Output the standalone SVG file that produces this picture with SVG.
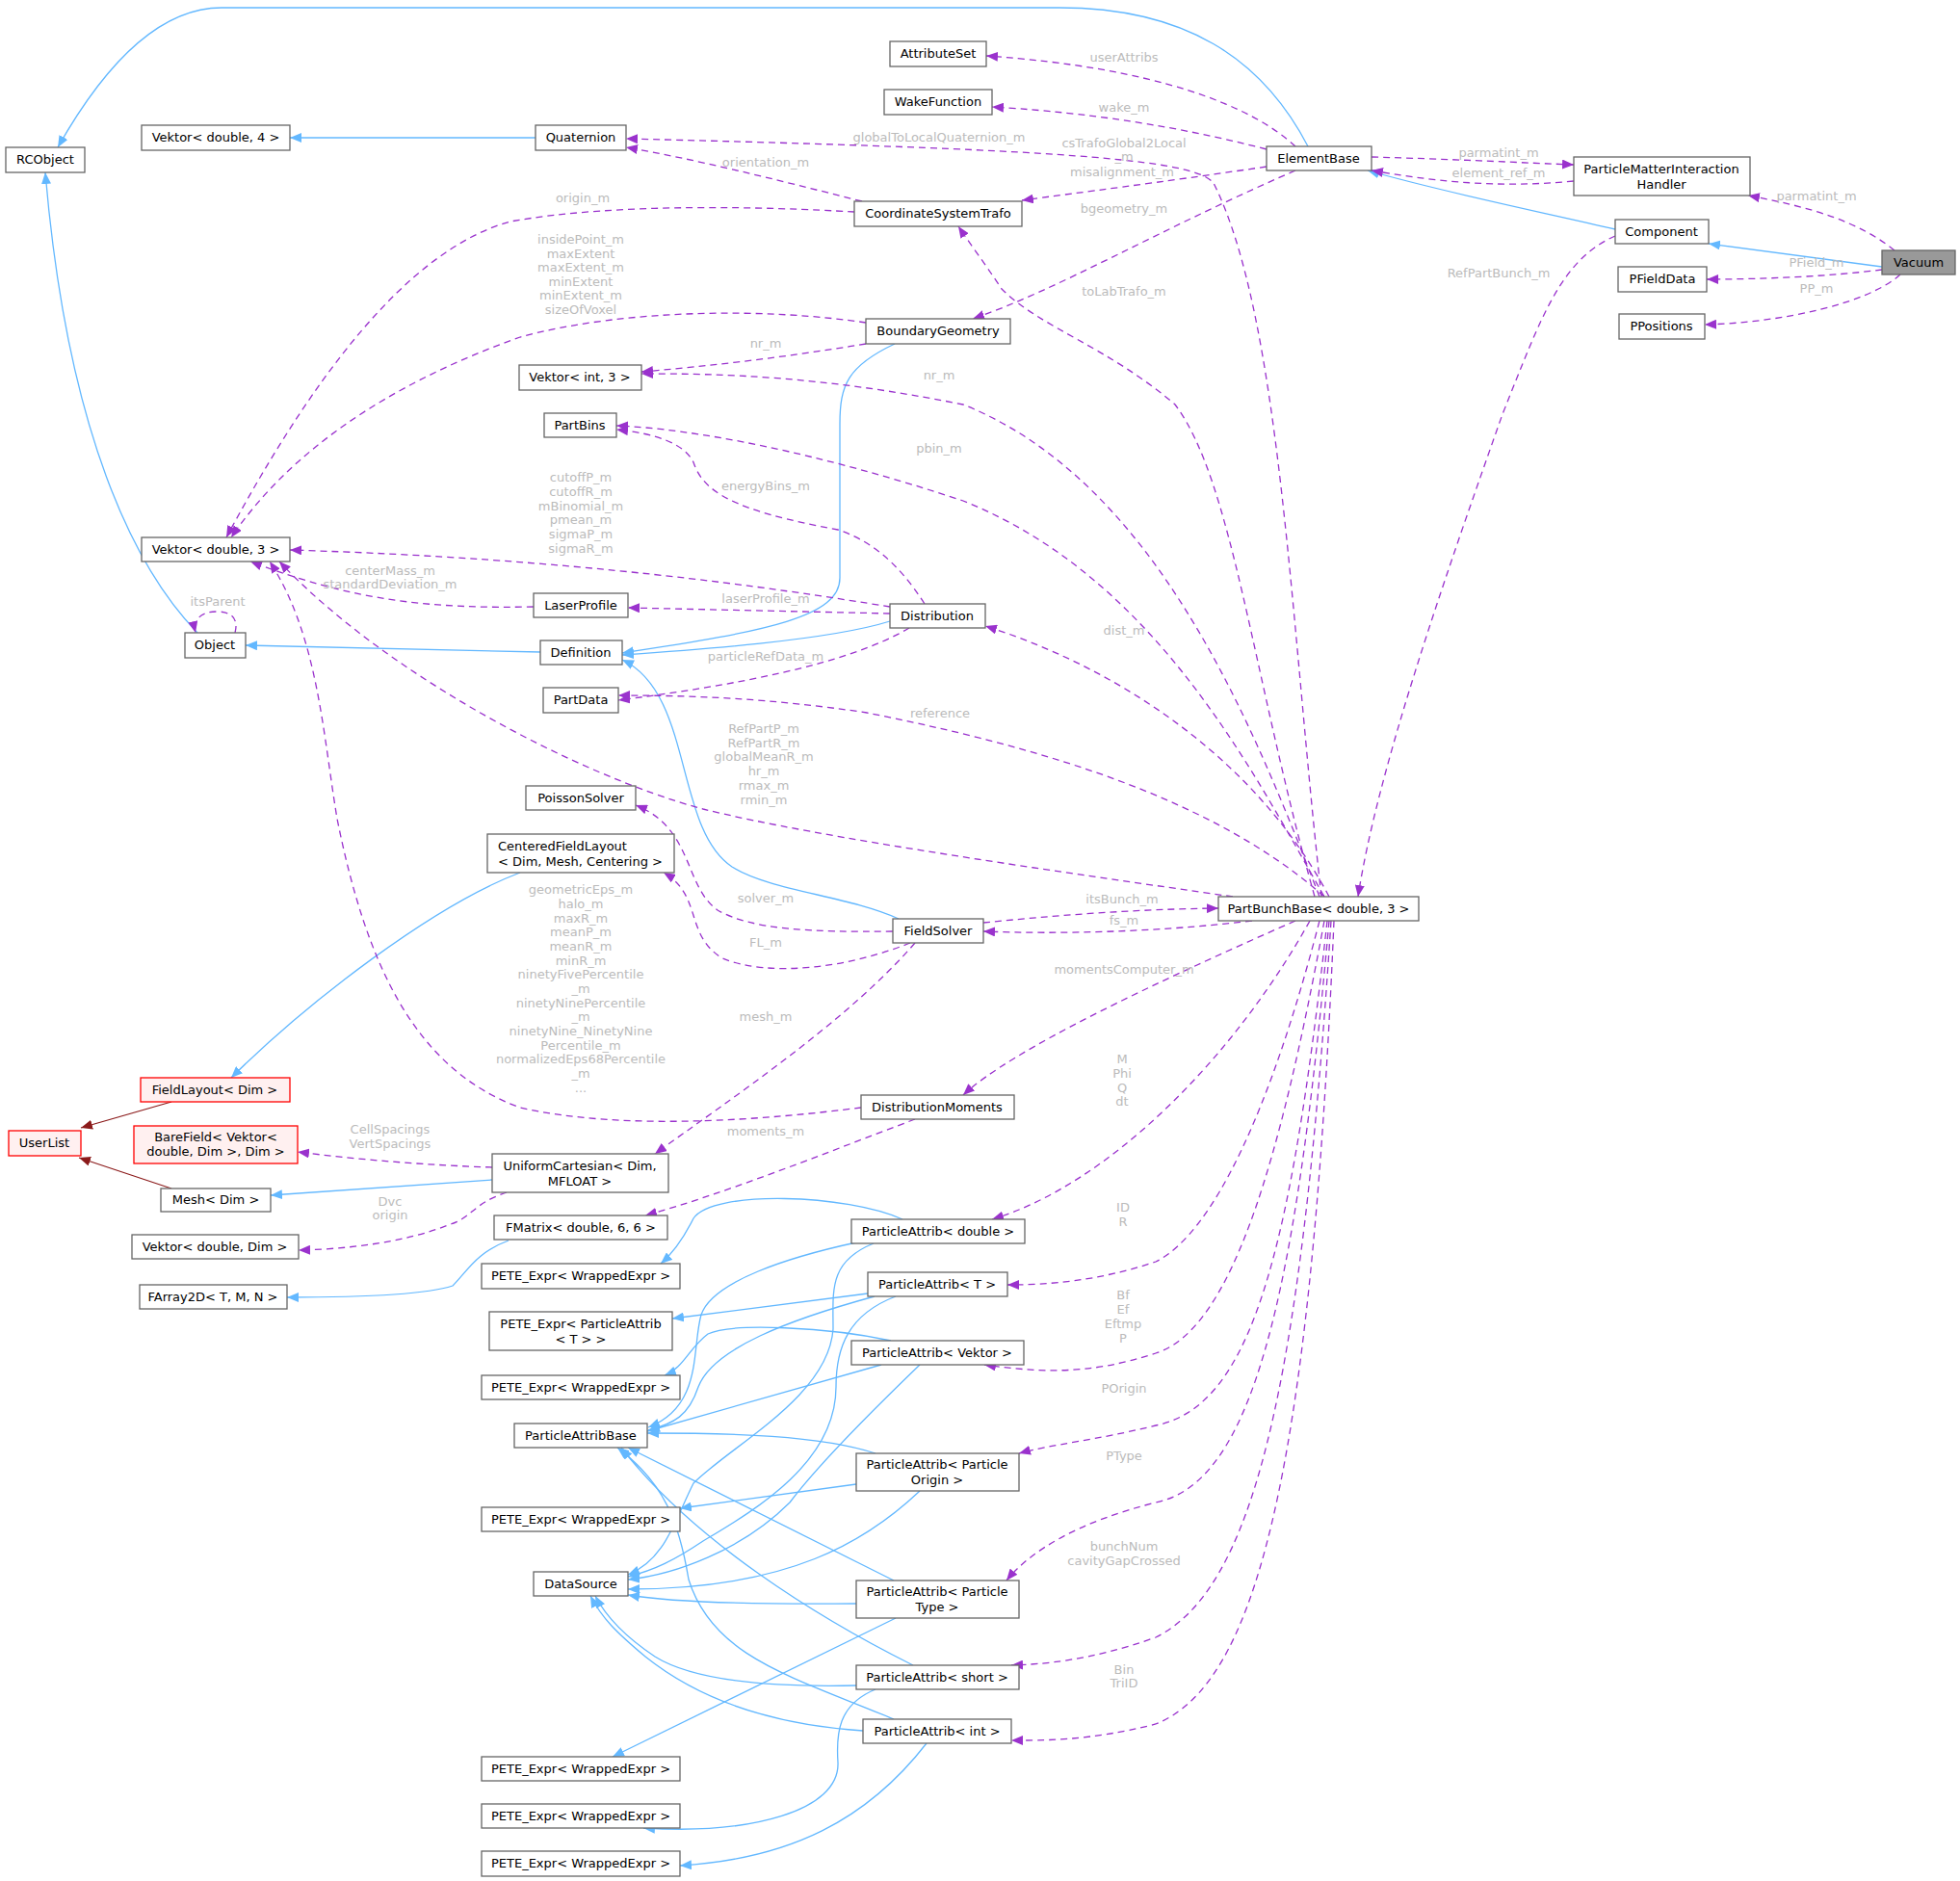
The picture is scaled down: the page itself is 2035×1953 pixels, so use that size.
<svg xmlns="http://www.w3.org/2000/svg" width="2035" height="1953" viewBox="0 0 2035 1953">
<style>
.n rect{fill:#fff;stroke:#666;stroke-width:1.3}
.r rect{fill:#fff0f0;stroke:#f00;stroke-width:1.3}
.g rect{fill:#999;stroke:#666;stroke-width:1.3}
text{font-family:"DejaVu Sans","Liberation Sans",sans-serif;font-size:13px;fill:#000}
.c{text-anchor:middle}
.l{text-anchor:middle;fill:#bbb;font-size:13px}
.b{fill:none;stroke:#63b8ff;stroke-width:1.3;marker-end:url(#mb)}
.k{fill:none;stroke:#8b1a1a;stroke-width:1.3;marker-end:url(#mr)}
.d{fill:none;stroke:#9a32cd;stroke-width:1.3;stroke-dasharray:7,5;marker-end:url(#mp)}
</style>
<defs>
<marker id="mb" markerUnits="userSpaceOnUse" markerWidth="13" markerHeight="10" refX="12" refY="5" orient="auto"><path d="M0,0 L12,5 L0,10z" fill="#63b8ff"/></marker>
<marker id="mp" markerUnits="userSpaceOnUse" markerWidth="13" markerHeight="10" refX="12" refY="5" orient="auto"><path d="M0,0 L12,5 L0,10z" fill="#9a32cd"/></marker>
<marker id="mr" markerUnits="userSpaceOnUse" markerWidth="13" markerHeight="10" refX="12" refY="5" orient="auto"><path d="M0,0 L12,5 L0,10z" fill="#8b1a1a"/></marker>
</defs>
<rect width="2035" height="1953" fill="#fff"/>
<g id="edges">
<path class="b" d="M1358,152 C1310,60 1230,8 1100,8 L230,8 C150,8 90,100 60,153"/>
<path class="b" d="M556,143 L301,143"/>
<path class="b" d="M205,657 C140,590 70,450 47,179"/>
<path class="b" d="M561,677 L255,670"/>
<path class="b" d="M929,357 C880,380 872,400 872,440 L872,600 C872,640 800,655 646,678"/>
<path class="b" d="M924,645 C860,665 720,675 646,680"/>
<path class="b" d="M933,954 C880,930 800,925 760,900 C700,860 720,720 646,685"/>
<path class="b" d="M540,906 C450,940 320,1040 240,1119"/>
<path class="b" d="M511,1225 L281,1241"/>
<path class="b" d="M528,1288 C495,1300 485,1320 470,1335 C440,1345 360,1347 298,1347"/>
<path class="b" d="M1677,238 C1600,220 1500,200 1420,177"/>
<path class="b" d="M1954,277 L1774,253"/>
<path class="k" d="M178,1144 L84,1171"/>
<path class="k" d="M178,1234 L82,1202"/>
<path class="b" d="M937,1266 C880,1240 740,1235 720,1265 C710,1285 700,1300 686,1312"/>
<path class="b" d="M889,1290 C820,1305 740,1330 728,1365 C718,1400 730,1460 673,1482"/>
<path class="b" d="M907,1291 C860,1310 865,1340 865,1380 C860,1450 760,1500 720,1540 C700,1580 690,1620 652,1635"/>
<path class="b" d="M901,1343 L698,1369"/>
<path class="b" d="M908,1346 C820,1370 740,1400 725,1440 C715,1470 700,1478 673,1485"/>
<path class="b" d="M930,1346 C880,1365 868,1400 868,1440 C868,1520 780,1570 730,1600 C700,1620 680,1630 652,1637"/>
<path class="b" d="M925,1392 C860,1378 760,1373 735,1385 C715,1400 710,1420 690,1428"/>
<path class="b" d="M915,1417 L672,1486"/>
<path class="b" d="M955,1417 C900,1470 850,1520 820,1560 C770,1610 700,1635 652,1640"/>
<path class="b" d="M889,1541 L706,1566"/>
<path class="b" d="M909,1509 C850,1490 760,1488 672,1488"/>
<path class="b" d="M955,1548 C900,1600 820,1650 652,1650"/>
<path class="b" d="M930,1680 L636,1824"/>
<path class="b" d="M928,1641 L652,1503"/>
<path class="b" d="M889,1665 C780,1666 700,1664 652,1656"/>
<path class="b" d="M909,1754 C870,1770 868,1800 870,1830 C872,1880 780,1905 668,1898"/>
<path class="b" d="M948,1729 C850,1680 720,1600 645,1503"/>
<path class="b" d="M889,1750 C800,1752 720,1745 680,1720 C650,1700 630,1680 618,1657"/>
<path class="b" d="M962,1810 C900,1890 820,1930 706,1937"/>
<path class="b" d="M928,1785 C820,1740 740,1720 715,1640 C705,1580 690,1540 641,1503"/>
<path class="b" d="M896,1797 C790,1790 720,1760 670,1720 C640,1695 625,1680 613,1657"/>

<path class="d" d="M1345,152 C1300,110 1200,70 1024,58"/><text class="l" x="1167" y="64">userAttribs</text>
<path class="d" d="M1315,155 C1200,125 1100,115 1030,111"/><text class="l" x="1167" y="116">wake_m</text>
<path class="d" d="M1372,931 C1340,650 1330,330 1260,190 C1240,165 1100,155 650,144"/><text class="l" x="975" y="147">globalToLocalQuaternion_m</text>
<path class="d" d="M895,209 C800,185 720,165 650,153"/><text class="l" x="795" y="173">orientation_m</text>
<path class="d" d="M887,220 C800,215 640,210 530,230 C420,260 320,400 235,558"/><text class="l" x="605" y="210">origin_m</text>
<path class="d" d="M1315,173 C1200,190 1120,200 1061,208"/><text class="l" x="1167" y="153">csTrafoGlobal2Local</text><text class="l" x="1167" y="167">_m</text><text class="l" x="1165" y="183">misalignment_m</text>
<path class="d" d="M1365,931 C1300,700 1280,500 1220,420 C1150,360 1080,340 1040,300 C1020,270 1005,250 995,235"/><text class="l" x="1167" y="307">toLabTrafo_m</text>
<path class="d" d="M1345,177 C1200,240 1100,300 1010,331"/><text class="l" x="1167" y="221">bgeometry_m</text>
<path class="d" d="M1424,163 C1500,165 1560,168 1634,171"/><text class="l" x="1556" y="163">parmatint_m</text>
<path class="d" d="M1634,188 C1560,195 1500,190 1424,177"/><text class="l" x="1556" y="184">element_ref_m</text>
<path class="d" d="M1967,260 C1930,230 1880,215 1815,203"/><text class="l" x="1886" y="208">parmatint_m</text>
<path class="d" d="M1954,280 C1900,287 1830,290 1772,290"/><text class="l" x="1886" y="277">PField_m</text>
<path class="d" d="M1973,285 C1940,315 1850,335 1770,337"/><text class="l" x="1886" y="304">PP_m</text>
<path class="d" d="M1677,245 C1620,270 1600,330 1560,430 C1500,600 1430,800 1410,931"/><text class="l" x="1556" y="288">RefPartBunch_m</text>
<path class="d" d="M899,335 C800,320 650,320 540,350 C400,400 300,470 240,558"/>
<text class="l" x="603" y="253">insidePoint_m</text><text class="l" x="603" y="268">maxExtent</text><text class="l" x="603" y="282">maxExtent_m</text><text class="l" x="603" y="297">minExtent</text><text class="l" x="603" y="311">minExtent_m</text><text class="l" x="603" y="326">sizeOfVoxel</text>
<path class="d" d="M899,357 C820,370 740,380 666,386"/><text class="l" x="795" y="361">nr_m</text>
<path class="d" d="M1370,931 C1300,750 1200,500 1000,420 C850,390 750,388 666,388"/><text class="l" x="975" y="394">nr_m</text>
<path class="d" d="M1375,931 C1300,800 1200,600 1000,520 C850,470 720,445 640,442"/><text class="l" x="975" y="470">pbin_m</text>
<path class="d" d="M960,627 C930,580 900,560 870,550 C760,530 730,510 720,480 C710,460 680,450 640,446"/><text class="l" x="795" y="509">energyBins_m</text>
<path class="d" d="M924,630 C800,610 600,580 301,571"/>
<text class="l" x="603" y="500">cutoffP_m</text><text class="l" x="603" y="515">cutoffR_m</text><text class="l" x="603" y="530">mBinomial_m</text><text class="l" x="603" y="544">pmean_m</text><text class="l" x="603" y="559">sigmaP_m</text><text class="l" x="603" y="574">sigmaR_m</text>
<path class="d" d="M554,630 C450,632 370,625 260,583"/><text class="l" x="405" y="597">centerMass_m</text><text class="l" x="405" y="611">standardDeviation_m</text>
<path class="d" d="M924,637 L652,631"/><text class="l" x="795" y="626">laserProfile_m</text>
<path class="d" d="M944,652 C880,690 760,712 642,727"/><text class="l" x="795" y="686">particleRefData_m</text>
<path class="d" d="M1380,931 C1300,780 1150,690 1023,650"/><text class="l" x="1167" y="659">dist_m</text>
<path class="d" d="M1375,931 C1250,820 1050,770 900,740 C800,725 720,722 642,722"/><text class="l" x="976" y="745">reference</text>
<path class="d" d="M1280,931 C1100,905 850,870 730,840 C600,805 400,700 290,583"/>
<text class="l" x="793" y="761">RefPartP_m</text><text class="l" x="793" y="776">RefPartR_m</text><text class="l" x="793" y="790">globalMeanR_m</text><text class="l" x="793" y="805">hr_m</text><text class="l" x="793" y="820">rmax_m</text><text class="l" x="793" y="835">rmin_m</text>
<path class="d" d="M927,967 C840,968 780,965 745,945 C710,920 720,860 660,836"/><text class="l" x="795" y="937">solver_m</text>
<path class="d" d="M945,979 C880,1005 800,1015 750,995 C710,970 730,930 689,906"/><text class="l" x="795" y="983">FL_m</text>
<path class="d" d="M950,979 C880,1060 760,1140 680,1198"/><text class="l" x="795" y="1060">mesh_m</text>
<path class="d" d="M1021,958 C1100,950 1180,944 1265,943"/><text class="l" x="1165" y="938">itsBunch_m</text>
<path class="d" d="M1300,956 C1200,968 1100,970 1021,967"/><text class="l" x="1167" y="960">fs_m</text>
<path class="d" d="M1345,956 C1200,1020 1050,1090 1000,1137"/><text class="l" x="1167" y="1011">momentsComputer_m</text>
<path class="d" d="M894,1150 C800,1162 650,1175 540,1150 C430,1110 380,1000 350,850 C335,760 330,660 280,583"/>
<text class="l" x="603" y="928">geometricEps_m</text><text class="l" x="603" y="943">halo_m</text><text class="l" x="603" y="958">maxR_m</text><text class="l" x="603" y="972">meanP_m</text><text class="l" x="603" y="987">meanR_m</text><text class="l" x="603" y="1002">minR_m</text><text class="l" x="603" y="1016">ninetyFivePercentile</text><text class="l" x="603" y="1031">_m</text><text class="l" x="603" y="1046">ninetyNinePercentile</text><text class="l" x="603" y="1060">_m</text><text class="l" x="603" y="1075">ninetyNine_NinetyNine</text><text class="l" x="603" y="1090">Percentile_m</text><text class="l" x="603" y="1104">normalizedEps68Percentile</text><text class="l" x="603" y="1119">_m</text><text class="l" x="603" y="1134">...</text>
<path class="d" d="M950,1162 C850,1200 750,1240 670,1262"/><text class="l" x="795" y="1179">moments_m</text>
<path class="d" d="M511,1212 C450,1210 380,1205 309,1196"/><text class="l" x="405" y="1177">CellSpacings</text><text class="l" x="405" y="1192">VertSpacings</text>
<path class="d" d="M526,1238 C490,1250 490,1265 465,1272 C420,1290 360,1297 310,1298"/><text class="l" x="405" y="1252">Dvc</text><text class="l" x="405" y="1266">origin</text>
<path class="d" d="M1360,956 C1280,1100 1150,1230 1030,1266"/><text class="l" x="1165" y="1104">M</text><text class="l" x="1165" y="1119">Phi</text><text class="l" x="1165" y="1134">Q</text><text class="l" x="1165" y="1148">dt</text>
<path class="d" d="M1370,956 C1320,1150 1260,1280 1200,1310 C1140,1330 1090,1334 1046,1334"/><text class="l" x="1166" y="1258">ID</text><text class="l" x="1166" y="1273">R</text>
<path class="d" d="M1375,956 C1330,1200 1280,1380 1200,1405 C1130,1428 1080,1425 1022,1417"/><text class="l" x="1166" y="1349">Bf</text><text class="l" x="1166" y="1364">Ef</text><text class="l" x="1166" y="1379">Eftmp</text><text class="l" x="1166" y="1394">P</text>
<path class="d" d="M1378,956 C1340,1300 1300,1460 1200,1480 C1140,1495 1090,1500 1058,1509"/><text class="l" x="1167" y="1446">POrigin</text>
<path class="d" d="M1380,956 C1345,1350 1300,1540 1200,1560 C1120,1580 1070,1610 1045,1641"/><text class="l" x="1167" y="1516">PType</text>
<path class="d" d="M1382,956 C1350,1450 1300,1650 1200,1700 C1130,1725 1080,1728 1050,1729"/><text class="l" x="1167" y="1610">bunchNum</text><text class="l" x="1167" y="1625">cavityGapCrossed</text>
<path class="d" d="M1385,956 C1360,1550 1300,1750 1200,1790 C1130,1808 1080,1807 1050,1807"/><text class="l" x="1167" y="1738">Bin</text><text class="l" x="1167" y="1752">TriID</text>
<path class="d" d="M244,657 C248,642 240,635 225,635 C208,635 200,644 203,657"/><text class="l" x="226" y="629">itsParent</text>
</g>
<g id="RCObject" class="n"><rect x="6" y="153" width="82" height="26"/><text class="c" x="47" y="170">RCObject</text></g>
<g id="Vektor4" class="n"><rect x="147" y="130" width="154" height="26"/><text class="c" x="224" y="147">Vektor&lt; double, 4 &gt;</text></g>
<g id="Quaternion" class="n"><rect x="556" y="130" width="94" height="26"/><text class="c" x="603" y="147">Quaternion</text></g>
<g id="AttributeSet" class="n"><rect x="924" y="43" width="100" height="26"/><text class="c" x="974" y="60">AttributeSet</text></g>
<g id="WakeFunction" class="n"><rect x="918" y="93" width="112" height="26"/><text class="c" x="974" y="110">WakeFunction</text></g>
<g id="CSTrafo" class="n"><rect x="887" y="209" width="174" height="26"/><text class="c" x="974" y="226">CoordinateSystemTrafo</text></g>
<g id="ElementBase" class="n"><rect x="1315" y="152" width="109" height="25"/><text class="c" x="1369" y="169">ElementBase</text></g>
<g id="PMIH" class="n"><rect x="1634" y="163" width="183" height="40"/><text class="c" x="1725" y="180">ParticleMatterInteraction</text><text class="c" x="1725" y="196">Handler</text></g>
<g id="Component" class="n"><rect x="1677" y="228" width="97" height="25"/><text class="c" x="1725" y="245">Component</text></g>
<g id="Vacuum" class="g"><rect x="1954" y="260" width="76" height="25"/><text class="c" x="1992" y="277">Vacuum</text></g>
<g id="PFieldData" class="n"><rect x="1680" y="277" width="92" height="26"/><text class="c" x="1726" y="294">PFieldData</text></g>
<g id="PPositions" class="n"><rect x="1681" y="326" width="89" height="26"/><text class="c" x="1725" y="343">PPositions</text></g>
<g id="BoundaryGeometry" class="n"><rect x="899" y="331" width="150" height="26"/><text class="c" x="974" y="348">BoundaryGeometry</text></g>
<g id="VektorInt3" class="n"><rect x="539" y="379" width="127" height="26"/><text class="c" x="602" y="396">Vektor&lt; int, 3 &gt;</text></g>
<g id="PartBins" class="n"><rect x="565" y="429" width="75" height="25"/><text class="c" x="602" y="446">PartBins</text></g>
<g id="VektorD3" class="n"><rect x="147" y="558" width="154" height="25"/><text class="c" x="224" y="575">Vektor&lt; double, 3 &gt;</text></g>
<g id="LaserProfile" class="n"><rect x="554" y="616" width="98" height="25"/><text class="c" x="603" y="633">LaserProfile</text></g>
<g id="Distribution" class="n"><rect x="924" y="627" width="99" height="25"/><text class="c" x="973" y="644">Distribution</text></g>
<g id="Object" class="n"><rect x="192" y="657" width="63" height="26"/><text class="c" x="223" y="674">Object</text></g>
<g id="Definition" class="n"><rect x="561" y="665" width="85" height="25"/><text class="c" x="603" y="682">Definition</text></g>
<g id="PartData" class="n"><rect x="564" y="714" width="78" height="26"/><text class="c" x="603" y="731">PartData</text></g>
<g id="PoissonSolver" class="n"><rect x="546" y="816" width="114" height="25"/><text class="c" x="603" y="833">PoissonSolver</text></g>
<g id="CenteredFieldLayout" class="n"><rect x="506" y="866" width="194" height="40"/><text x="517" y="883">CenteredFieldLayout</text><text x="517" y="899">&lt; Dim, Mesh, Centering &gt;</text></g>
<g id="PartBunchBase" class="n"><rect x="1265" y="931" width="208" height="25"/><text class="c" x="1369" y="948">PartBunchBase&lt; double, 3 &gt;</text></g>
<g id="FieldSolver" class="n"><rect x="927" y="954" width="94" height="25"/><text class="c" x="974" y="971">FieldSolver</text></g>
<g id="DistributionMoments" class="n"><rect x="894" y="1137" width="159" height="25"/><text class="c" x="973" y="1154">DistributionMoments</text></g>
<g id="FieldLayout" class="r"><rect x="146" y="1119" width="155" height="25"/><text class="c" x="223" y="1136">FieldLayout&lt; Dim &gt;</text></g>
<g id="UserList" class="r"><rect x="9" y="1174" width="75" height="26"/><text class="c" x="46" y="1191">UserList</text></g>
<g id="BareField" class="r"><rect x="139" y="1169" width="170" height="39"/><text class="c" x="224" y="1185">BareField&lt; Vektor&lt;</text><text class="c" x="224" y="1200">double, Dim &gt;, Dim &gt;</text></g>
<g id="UniformCartesian" class="n"><rect x="511" y="1198" width="183" height="40"/><text class="c" x="602" y="1215">UniformCartesian&lt; Dim,</text><text class="c" x="602" y="1231">MFLOAT &gt;</text></g>
<g id="Mesh" class="n"><rect x="167" y="1234" width="114" height="24"/><text class="c" x="224" y="1250">Mesh&lt; Dim &gt;</text></g>
<g id="FMatrix" class="n"><rect x="513" y="1262" width="180" height="25"/><text class="c" x="603" y="1279">FMatrix&lt; double, 6, 6 &gt;</text></g>
<g id="VektorDDim" class="n"><rect x="137" y="1282" width="173" height="25"/><text class="c" x="223" y="1299">Vektor&lt; double, Dim &gt;</text></g>
<g id="FArray2D" class="n"><rect x="145" y="1334" width="153" height="25"/><text class="c" x="221" y="1351">FArray2D&lt; T, M, N &gt;</text></g>
<g id="PADouble" class="n"><rect x="884" y="1266" width="180" height="25"/><text class="c" x="974" y="1283">ParticleAttrib&lt; double &gt;</text></g>
<g id="PETE1" class="n"><rect x="500" y="1312" width="206" height="26"/><text class="c" x="603" y="1329">PETE_Expr&lt; WrappedExpr &gt;</text></g>
<g id="PAT" class="n"><rect x="901" y="1321" width="145" height="25"/><text class="c" x="973" y="1338">ParticleAttrib&lt; T &gt;</text></g>
<g id="PETEPAT" class="n"><rect x="508" y="1362" width="190" height="40"/><text class="c" x="603" y="1379">PETE_Expr&lt; ParticleAttrib</text><text class="c" x="603" y="1395">&lt; T &gt; &gt;</text></g>
<g id="PAVektor" class="n"><rect x="884" y="1392" width="179" height="25"/><text class="c" x="973" y="1409">ParticleAttrib&lt; Vektor &gt;</text></g>
<g id="PETE2" class="n"><rect x="500" y="1428" width="206" height="25"/><text class="c" x="603" y="1445">PETE_Expr&lt; WrappedExpr &gt;</text></g>
<g id="ParticleAttribBase" class="n"><rect x="534" y="1478" width="138" height="25"/><text class="c" x="603" y="1495">ParticleAttribBase</text></g>
<g id="PAOrigin" class="n"><rect x="889" y="1509" width="169" height="39"/><text class="c" x="973" y="1525">ParticleAttrib&lt; Particle</text><text class="c" x="973" y="1541">Origin &gt;</text></g>
<g id="PETE3" class="n"><rect x="500" y="1565" width="206" height="25"/><text class="c" x="603" y="1582">PETE_Expr&lt; WrappedExpr &gt;</text></g>
<g id="DataSource" class="n"><rect x="554" y="1632" width="98" height="25"/><text class="c" x="603" y="1649">DataSource</text></g>
<g id="PAType" class="n"><rect x="889" y="1641" width="169" height="39"/><text class="c" x="973" y="1657">ParticleAttrib&lt; Particle</text><text class="c" x="973" y="1673">Type &gt;</text></g>
<g id="PAShort" class="n"><rect x="889" y="1729" width="169" height="25"/><text class="c" x="973" y="1746">ParticleAttrib&lt; short &gt;</text></g>
<g id="PAInt" class="n"><rect x="896" y="1785" width="154" height="25"/><text class="c" x="973" y="1802">ParticleAttrib&lt; int &gt;</text></g>
<g id="PETE4" class="n"><rect x="500" y="1824" width="206" height="25"/><text class="c" x="603" y="1841">PETE_Expr&lt; WrappedExpr &gt;</text></g>
<g id="PETE5" class="n"><rect x="500" y="1873" width="206" height="25"/><text class="c" x="603" y="1890">PETE_Expr&lt; WrappedExpr &gt;</text></g>
<g id="PETE6" class="n"><rect x="500" y="1922" width="206" height="26"/><text class="c" x="603" y="1939">PETE_Expr&lt; WrappedExpr &gt;</text></g>
</svg>
